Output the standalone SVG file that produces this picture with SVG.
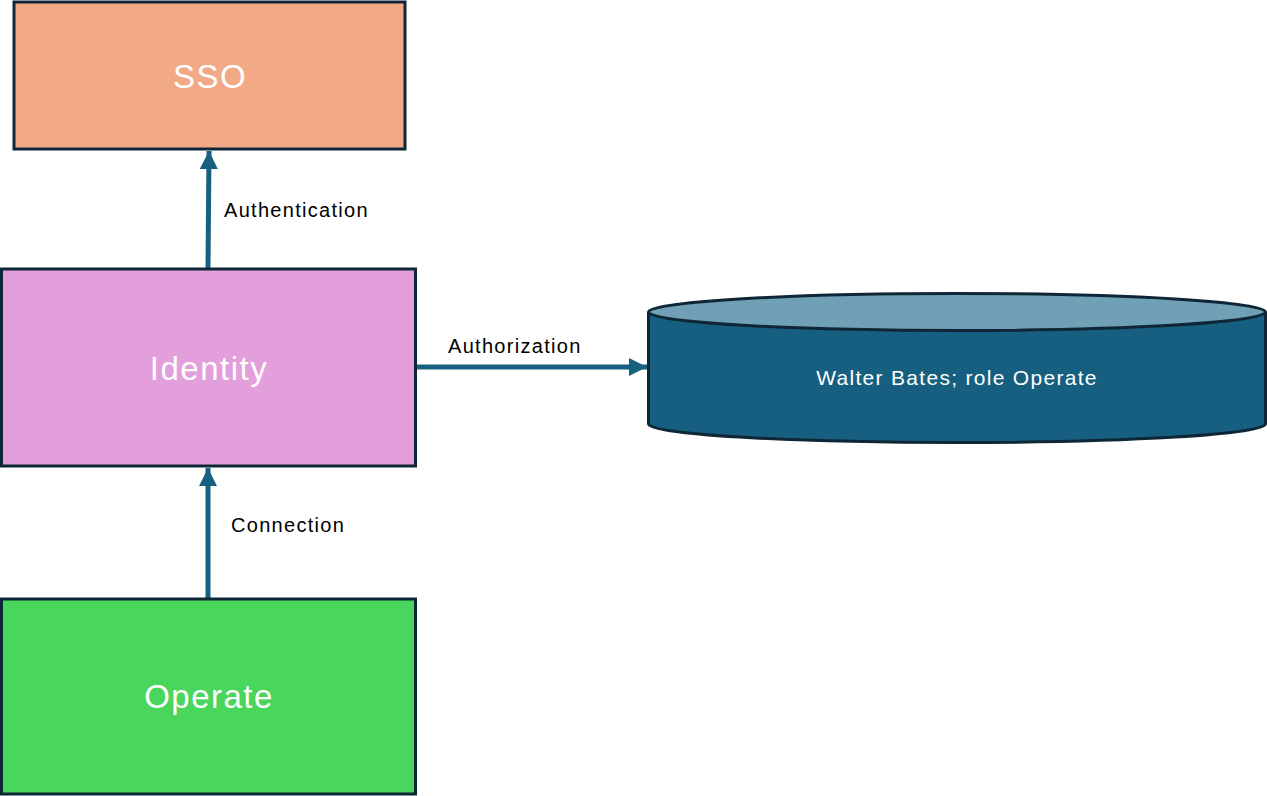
<svg xmlns="http://www.w3.org/2000/svg" width="1267" height="796" viewBox="0 0 1267 796">
<style>
.box{stroke:#0f2636;stroke-width:3}
.nlabel{font-family:"Liberation Sans",Arial,sans-serif;fill:#ffffff;text-anchor:middle;dominant-baseline:central}
.big{font-size:33px;letter-spacing:1.5px}
.elabel{font-family:"Liberation Sans",Arial,sans-serif;fill:#000000;font-size:20px;letter-spacing:1.3px;dominant-baseline:central}
.conn{stroke:#17607f;stroke-width:5;fill:none}
</style>
<defs>
<marker id="arr" viewBox="0 0 10 10" refX="10" refY="5" markerWidth="3.6" markerHeight="3.6" markerUnits="strokeWidth" orient="auto">
<path d="M0,0 L10,5 L0,10 Z" fill="#17607f"/>
</marker>
</defs>
<rect width="1267" height="796" fill="#ffffff"/>
<g id="connectors">
<line class="conn" x1="208" y1="268" x2="209" y2="151" marker-end="url(#arr)"/>
<line class="conn" x1="208" y1="598" x2="208" y2="468" marker-end="url(#arr)"/>
<line class="conn" x1="416" y1="367" x2="647" y2="367" marker-end="url(#arr)"/>
<text class="elabel" x="224" y="210">Authentication</text>
<text class="elabel" x="448" y="346">Authorization</text>
<text class="elabel" x="231" y="525">Connection</text>
</g>
<g id="sso">
<rect class="box" x="14" y="2" width="391" height="147" fill="#f1aa85"/>
<text class="nlabel big" x="210" y="76">SSO</text>
</g>
<g id="identity">
<rect class="box" x="1.5" y="269" width="414" height="197" fill="#e39edc"/>
<text class="nlabel big" x="209" y="368">Identity</text>
</g>
<g id="operate">
<rect class="box" x="1.5" y="599" width="414" height="195" fill="#48d65c"/>
<text class="nlabel big" x="209" y="696">Operate</text>
</g>
<g id="database">
<path class="box" d="M648.5,312 L648.5,424 A308.5,18.5 0 0 0 1265.5,424 L1265.5,312" fill="#175f80" stroke-width="2.5"/>
<ellipse class="box" cx="957" cy="312" rx="308.5" ry="18.5" fill="#6fa0b5" stroke-width="2.5"/>
<text class="nlabel" x="957" y="377" font-size="21" letter-spacing="1.3">Walter Bates; role Operate</text>
</g>
</svg>
